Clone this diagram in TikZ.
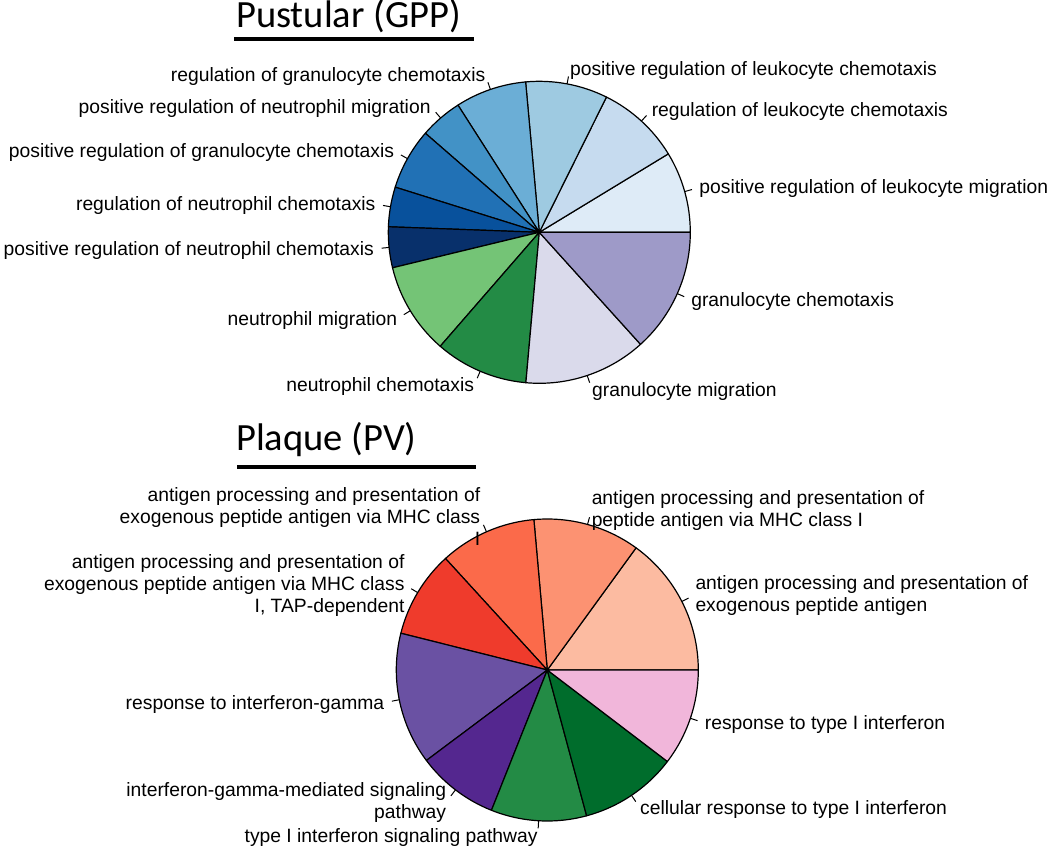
\documentclass[tikz,border=0pt]{standalone}
\usepackage{fontspec}
\setmainfont{Liberation Sans}
\newfontfamily\titlefont{Carlito}
\usetikzlibrary{calc}
% top pie palette
\definecolor{tA}{HTML}{DEEBF7}
\definecolor{tB}{HTML}{C6DBEF}
\definecolor{tC}{HTML}{9ECAE1}
\definecolor{tD}{HTML}{6BAED6}
\definecolor{tE}{HTML}{4292C6}
\definecolor{tF}{HTML}{2171B5}
\definecolor{tG}{HTML}{08519C}
\definecolor{tH}{HTML}{08306B}
\definecolor{tI}{HTML}{74C476}
\definecolor{tJ}{HTML}{238B45}
\definecolor{tK}{HTML}{DADAEB}
\definecolor{tL}{HTML}{9E9AC8}
% bottom pie palette
\definecolor{bA}{HTML}{FCBBA1}
\definecolor{bB}{HTML}{FC9272}
\definecolor{bC}{HTML}{FB6A4A}
\definecolor{bD}{HTML}{EF3B2C}
\definecolor{bE}{HTML}{6A51A3}
\definecolor{bF}{HTML}{54278F}
\definecolor{bG}{HTML}{238B45}
\definecolor{bH}{HTML}{006D2C}
\definecolor{bI}{HTML}{F1B6DA}
\newcommand{\PR}{151pt}
% slice: center, start angle, end angle, colour
\newcommand{\pieslice}[4]{%
  \filldraw[slice, fill=#4] (#1) -- ($(#1)+(#2:\PR)$)
    arc[start angle=#2, end angle=#3, radius=\PR] -- cycle;}
% label: center, mid angle, anchor, align, text, name
\newcommand{\pielabel}[6]{%
  \coordinate (#6-in) at ($(#1)+(#2:\PR)$);
  \coordinate (#6-out) at ($(#1)+(#2:158.55pt)$);
  \draw[tick] (#6-in) -- (#6-out);
  \node[lbl, anchor=#3, align=#4] (#6) at ($(#1)+(#2:166.1pt)$) {#5};}
\begin{document}
\begin{tikzpicture}[x=1pt,y=-1pt,
  slice/.style={draw=black, line width=1.2pt, line join=round},
  tick/.style={draw=black, line width=1pt},
  lbl/.style={inner sep=0pt, yshift=-2pt, font=\fontsize{19.3}{22.3}\selectfont,
              execute at begin node=\strut},
  ttl/.style={inner sep=0pt, font=\titlefont\fontsize{38.5}{46}\selectfont},
  rule/.style={line width=4pt}]
\useasboundingbox (0,0) rectangle (1050,848);

% ---------- titles ----------
\node[ttl, anchor=base west] (tTop) at (236,27.5) {Pustular (GPP)};
\coordinate (uTopA) at (234,39);
\coordinate (uTopB) at (474,39);
\draw[rule] (uTopA) -- (uTopB);
\node[ttl, anchor=base west] (tBot) at (236,450) {Plaque (PV)};
\coordinate (uBotA) at (237,467);
\coordinate (uBotB) at (476,467);
\draw[rule] (uBotA) -- (uBotB);

% ---------- top pie ----------
\coordinate (cT) at (539.3,232.3);
\pieslice{cT}{0}{31.3}{tA}
\pieslice{cT}{31.3}{63.6}{tB}
\pieslice{cT}{63.6}{95.2}{tC}
\pieslice{cT}{95.2}{122.6}{tD}
\pieslice{cT}{122.6}{139}{tE}
\pieslice{cT}{139}{162.6}{tF}
\pieslice{cT}{162.6}{177.9}{tG}
\pieslice{cT}{177.9}{193.6}{tH}
\pieslice{cT}{193.6}{229}{tI}
\pieslice{cT}{229}{264.9}{tJ}
\pieslice{cT}{264.9}{312.1}{tK}
\pieslice{cT}{312.1}{360}{tL}

\pielabel{cT}{15.65}{west}{left}{positive regulation of leukocyte migration}{lt1}
\pielabel{cT}{47.45}{west}{left}{regulation of leukocyte chemotaxis}{lt2}
\pielabel{cT}{79.4}{west}{left}{positive regulation of leukocyte chemotaxis}{lt3}
\pielabel{cT}{108.9}{east}{right}{regulation of granulocyte chemotaxis}{lt4}
\pielabel{cT}{130.8}{east}{right}{positive regulation of neutrophil migration}{lt5}
\pielabel{cT}{150.8}{east}{right}{positive regulation of granulocyte chemotaxis}{lt6}
\pielabel{cT}{170.25}{east}{right}{regulation of neutrophil chemotaxis}{lt7}
\pielabel{cT}{185.75}{east}{right}{positive regulation of neutrophil chemotaxis}{lt8}
\pielabel{cT}{211.3}{east}{right}{neutrophil migration}{lt9}
\pielabel{cT}{246.95}{east}{right}{neutrophil chemotaxis}{lt10}
\pielabel{cT}{288.5}{west}{left}{granulocyte migration}{lt11}
\pielabel{cT}{336.05}{west}{left}{granulocyte chemotaxis}{lt12}

% ---------- bottom pie ----------
\coordinate (cB) at (547.3,670);
\pieslice{cB}{0}{54}{bA}
\pieslice{cB}{54}{95.1}{bB}
\pieslice{cB}{95.1}{132.4}{bC}
\pieslice{cB}{132.4}{165.9}{bD}
\pieslice{cB}{165.9}{216.8}{bE}
\pieslice{cB}{216.8}{248.3}{bF}
\pieslice{cB}{248.3}{285.1}{bG}
\pieslice{cB}{285.1}{322.7}{bH}
\pieslice{cB}{322.7}{360}{bI}

\pielabel{cB}{27}{west}{left}{antigen processing and presentation of\\\strut exogenous peptide antigen}{lb1}
\pielabel{cB}{74.55}{west}{left}{antigen processing and presentation of\\\strut peptide antigen via MHC class I}{lb2}
\pielabel{cB}{113.75}{east}{right}{antigen processing and presentation of\\\strut exogenous peptide antigen via MHC class\\\strut I}{lb3}
\pielabel{cB}{149.15}{east}{right}{antigen processing and presentation of\\\strut exogenous peptide antigen via MHC class\\\strut I, TAP-dependent}{lb4}
\pielabel{cB}{191.35}{east}{right}{response to interferon-gamma}{lb5}
\pielabel{cB}{232.55}{east}{right}{interferon-gamma-mediated signaling\\\strut pathway}{lb6}
\pielabel{cB}{266.7}{east}{right}{type I interferon signaling pathway}{lb7}
\pielabel{cB}{303.9}{west}{left}{cellular response to type I interferon}{lb8}
\pielabel{cB}{341.35}{west}{left}{response to type I interferon}{lb9}
\end{tikzpicture}
\end{document}
